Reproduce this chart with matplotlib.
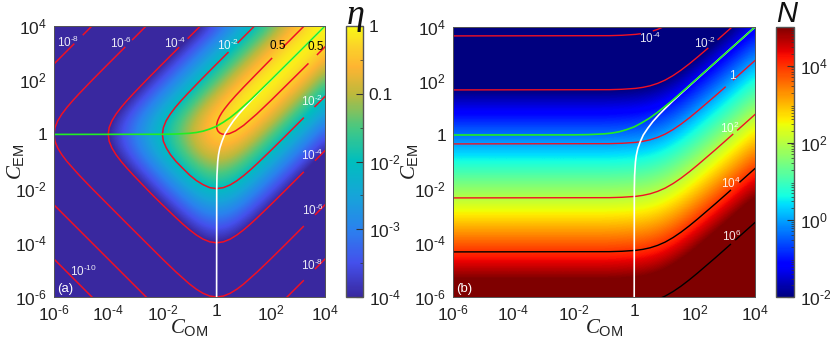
# -*- coding: utf-8 -*-
"""Conversion efficiency and added noise maps over C_OM / C_EM, saved to out.png."""
import numpy as np
import matplotlib
matplotlib.use("Agg")
import matplotlib.pyplot as plt
from matplotlib.colors import LinearSegmentedColormap, Normalize
from matplotlib.cm import ScalarMappable

plt.rcParams["font.family"] = ["Liberation Sans", "DejaVu Sans"]
plt.rcParams["mathtext.fontset"] = "custom"
plt.rcParams["mathtext.rm"] = "Liberation Sans"
plt.rcParams["mathtext.it"] = "Liberation Serif:italic"
plt.rcParams["mathtext.default"] = "regular"

W, H = 830, 342
NAN = float("nan")
FRAME = "#555555"
RED = "#f01024"

# decades on both axes, half-decade nodes of the two maps
TICKS = [-6, -4, -2, 0, 2, 4]
TICK_LABELS = [r"$10^{\text{-}6}$", r"$10^{\text{-}4}$", r"$10^{\text{-}2}$", "1", "$10^{2}$", "$10^{4}$"]

# log10(eta), rows from C_EM = 1e4 down to 1e-6, columns from C_OM = 1e-6 up to 1e4
LOG_ETA = [
    [-9.40, -8.90, -8.40, -7.90, -7.40, -6.90, -6.40, -5.90, -5.40, -4.90, -4.40, -3.90, -3.40, -2.90, -2.40, -1.90, -1.41, -0.93, -0.48, -0.14, 0.00],
    [-8.90, -8.40, -7.90, -7.40, -6.90, -6.40, -5.90, -5.40, -4.90, -4.40, -3.90, -3.40, -2.90, -2.40, -1.90, -1.41, -0.93, -0.48, -0.14, 0.00, -0.14],
    [-8.40, -7.90, -7.40, -6.90, -6.40, -5.90, -5.40, -4.90, -4.40, -3.90, -3.40, -2.90, -2.40, -1.90, -1.41, -0.93, -0.48, -0.14, 0.00, -0.14, -0.48],
    [-7.90, -7.40, -6.90, -6.40, -5.90, -5.40, -4.90, -4.40, -3.90, -3.40, -2.90, -2.40, -1.90, -1.41, -0.93, -0.49, -0.14, 0.00, -0.14, -0.48, -0.93],
    [-7.41, -6.91, -6.41, -5.91, -5.41, -4.91, -4.41, -3.91, -3.41, -2.91, -2.41, -1.91, -1.42, -0.93, -0.49, -0.14, 0.00, -0.14, -0.48, -0.93, -1.41],
    [-6.93, -6.43, -5.93, -5.43, -4.93, -4.43, -3.93, -3.43, -2.93, -2.43, -1.93, -1.43, -0.95, -0.51, -0.16, -0.01, -0.14, -0.49, -0.93, -1.41, -1.90],
    [-6.48, -5.98, -5.48, -4.98, -4.48, -3.98, -3.48, -2.98, -2.48, -1.98, -1.49, -1.00, -0.56, -0.20, -0.04, -0.16, -0.49, -0.93, -1.41, -1.90, -2.40],
    [-6.14, -5.64, -5.14, -4.64, -4.14, -3.64, -3.14, -2.64, -2.14, -1.64, -1.16, -0.70, -0.32, -0.13, -0.20, -0.51, -0.93, -1.41, -1.90, -2.40, -2.90],
    [-6.00, -5.50, -5.00, -4.50, -4.00, -3.50, -3.00, -2.50, -2.00, -1.51, -1.04, -0.63, -0.35, -0.32, -0.56, -0.95, -1.42, -1.91, -2.40, -2.90, -3.40],
    [-6.14, -5.64, -5.14, -4.64, -4.14, -3.64, -3.14, -2.64, -2.14, -1.66, -1.20, -0.82, -0.63, -0.70, -1.00, -1.43, -1.91, -2.40, -2.90, -3.40, -3.90],
    [-6.48, -5.98, -5.48, -4.98, -4.48, -3.98, -3.48, -2.98, -2.49, -2.00, -1.56, -1.20, -1.04, -1.16, -1.49, -1.93, -2.41, -2.90, -3.40, -3.90, -4.40],
    [-6.93, -6.43, -5.93, -5.43, -4.93, -4.43, -3.93, -3.43, -2.93, -2.45, -2.00, -1.66, -1.51, -1.64, -1.98, -2.43, -2.91, -3.40, -3.90, -4.40, -4.90],
    [-7.41, -6.91, -6.41, -5.91, -5.41, -4.91, -4.41, -3.91, -3.41, -2.93, -2.49, -2.14, -2.00, -2.14, -2.48, -2.93, -3.41, -3.90, -4.40, -4.90, -5.40],
    [-7.90, -7.40, -6.90, -6.40, -5.90, -5.40, -4.90, -4.40, -3.91, -3.43, -2.98, -2.64, -2.50, -2.64, -2.98, -3.43, -3.91, -4.40, -4.90, -5.40, -5.90],
    [-8.40, -7.90, -7.40, -6.90, -6.40, -5.90, -5.40, -4.90, -4.41, -3.93, -3.48, -3.14, -3.00, -3.14, -3.48, -3.93, -4.41, -4.90, -5.40, -5.90, -6.40],
    [-8.90, -8.40, -7.90, -7.40, -6.90, -6.40, -5.90, -5.40, -4.91, -4.43, -3.98, -3.64, -3.50, -3.64, -3.98, -4.43, -4.91, -5.40, -5.90, -6.40, -6.90],
    [-9.40, -8.90, -8.40, -7.90, -7.40, -6.90, -6.40, -5.90, -5.41, -4.93, -4.48, -4.14, -4.00, -4.14, -4.48, -4.93, -5.41, -5.90, -6.40, -6.90, -7.40],
    [-9.90, -9.40, -8.90, -8.40, -7.90, -7.40, -6.90, -6.40, -5.91, -5.43, -4.98, -4.64, -4.50, -4.64, -4.98, -5.43, -5.91, -6.40, -6.90, -7.40, -7.90],
    [-10.40, -9.90, -9.40, -8.90, -8.40, -7.90, -7.40, -6.90, -6.41, -5.93, -5.48, -5.14, -5.00, -5.14, -5.48, -5.93, -6.41, -6.90, -7.40, -7.90, -8.40],
    [-10.90, -10.40, -9.90, -9.40, -8.90, -8.40, -7.90, -7.40, -6.91, -6.43, -5.98, -5.64, -5.50, -5.64, -5.98, -6.43, -6.91, -7.40, -7.90, -8.40, -8.90],
    [-11.40, -10.90, -10.40, -9.90, -9.40, -8.90, -8.40, -7.90, -7.41, -6.93, -6.48, -6.14, -6.00, -6.14, -6.48, -6.93, -7.41, -7.90, -8.40, -8.90, -9.40],
]

# log10(N), same layout
LOG_N = [
    [-4.33, -4.33, -4.33, -4.33, -4.33, -4.33, -4.33, -4.33, -4.33, -4.33, -4.33, -4.31, -4.28, -4.19, -3.98, -3.64, -3.21, -2.73, -2.24, -1.74, -1.24],
    [-3.83, -3.83, -3.83, -3.83, -3.83, -3.83, -3.83, -3.83, -3.83, -3.83, -3.83, -3.81, -3.78, -3.69, -3.48, -3.14, -2.71, -2.23, -1.74, -1.24, -0.74],
    [-3.33, -3.33, -3.33, -3.33, -3.33, -3.33, -3.33, -3.33, -3.33, -3.33, -3.33, -3.31, -3.28, -3.19, -2.98, -2.64, -2.21, -1.73, -1.24, -0.74, -0.24],
    [-2.83, -2.83, -2.83, -2.83, -2.83, -2.83, -2.83, -2.83, -2.83, -2.83, -2.83, -2.81, -2.78, -2.69, -2.48, -2.14, -1.71, -1.23, -0.74, -0.24, 0.26],
    [-2.33, -2.33, -2.33, -2.33, -2.33, -2.33, -2.33, -2.33, -2.33, -2.33, -2.33, -2.31, -2.28, -2.19, -1.98, -1.64, -1.21, -0.73, -0.24, 0.26, 0.76],
    [-1.83, -1.83, -1.83, -1.83, -1.83, -1.83, -1.83, -1.83, -1.83, -1.83, -1.83, -1.81, -1.78, -1.69, -1.48, -1.14, -0.71, -0.23, 0.26, 0.76, 1.26],
    [-1.33, -1.33, -1.33, -1.33, -1.33, -1.33, -1.33, -1.33, -1.33, -1.33, -1.33, -1.31, -1.28, -1.19, -0.98, -0.64, -0.21, 0.27, 0.76, 1.26, 1.76],
    [-0.83, -0.83, -0.83, -0.83, -0.83, -0.83, -0.83, -0.83, -0.83, -0.83, -0.83, -0.81, -0.78, -0.69, -0.48, -0.14, 0.29, 0.77, 1.26, 1.76, 2.26],
    [-0.33, -0.33, -0.33, -0.33, -0.33, -0.33, -0.33, -0.33, -0.33, -0.33, -0.33, -0.31, -0.28, -0.19, 0.02, 0.36, 0.79, 1.27, 1.76, 2.26, 2.76],
    [0.17, 0.17, 0.17, 0.17, 0.17, 0.17, 0.17, 0.17, 0.17, 0.17, 0.17, 0.19, 0.22, 0.31, 0.52, 0.86, 1.29, 1.77, 2.26, 2.76, 3.26],
    [0.67, 0.67, 0.67, 0.67, 0.67, 0.67, 0.67, 0.67, 0.67, 0.67, 0.67, 0.69, 0.72, 0.81, 1.02, 1.36, 1.79, 2.27, 2.76, 3.26, 3.76],
    [1.17, 1.17, 1.17, 1.17, 1.17, 1.17, 1.17, 1.17, 1.17, 1.17, 1.17, 1.19, 1.22, 1.31, 1.52, 1.86, 2.29, 2.77, 3.26, 3.76, 4.26],
    [1.67, 1.67, 1.67, 1.67, 1.67, 1.67, 1.67, 1.67, 1.67, 1.67, 1.67, 1.69, 1.72, 1.81, 2.02, 2.36, 2.79, 3.27, 3.76, 4.26, 4.76],
    [2.17, 2.17, 2.17, 2.17, 2.17, 2.17, 2.17, 2.17, 2.17, 2.17, 2.17, 2.19, 2.22, 2.31, 2.52, 2.86, 3.29, 3.77, 4.26, 4.76, 5.26],
    [2.67, 2.67, 2.67, 2.67, 2.67, 2.67, 2.67, 2.67, 2.67, 2.67, 2.67, 2.69, 2.72, 2.81, 3.02, 3.36, 3.79, 4.27, 4.76, 5.26, 5.76],
    [3.17, 3.17, 3.17, 3.17, 3.17, 3.17, 3.17, 3.17, 3.17, 3.17, 3.17, 3.19, 3.22, 3.31, 3.52, 3.86, 4.29, 4.77, 5.26, 5.76, 6.26],
    [3.67, 3.67, 3.67, 3.67, 3.67, 3.67, 3.67, 3.67, 3.67, 3.67, 3.67, 3.69, 3.72, 3.81, 4.02, 4.36, 4.79, 5.27, 5.76, 6.26, 6.76],
    [4.17, 4.17, 4.17, 4.17, 4.17, 4.17, 4.17, 4.17, 4.17, 4.17, 4.17, 4.19, 4.22, 4.31, 4.52, 4.86, 5.29, 5.77, 6.26, 6.76, 7.26],
    [4.67, 4.67, 4.67, 4.67, 4.67, 4.67, 4.67, 4.67, 4.67, 4.67, 4.67, 4.69, 4.72, 4.81, 5.02, 5.36, 5.79, 6.27, 6.76, 7.26, 7.76],
    [5.17, 5.17, 5.17, 5.17, 5.17, 5.17, 5.17, 5.17, 5.17, 5.17, 5.17, 5.19, 5.22, 5.31, 5.52, 5.86, 6.29, 6.77, 7.26, 7.76, 8.26],
    [5.67, 5.67, 5.67, 5.67, 5.67, 5.67, 5.67, 5.67, 5.67, 5.67, 5.67, 5.69, 5.72, 5.81, 6.02, 6.36, 6.79, 7.27, 7.76, 8.26, 8.76],
]

# eta contours, exponents, NAN where a label interrupts the line
ETA_05_X = [3.23, 2.46, NAN, 2.03, 1.477, 1, 0.699, 0.477, 0.301, 0.204, 0.114, 0.041, 0.009, 0, 0.009, 0.041, 0.114, 0.204, 0.301, 0.477, 0.699, 1, 1.477, 2, 3.37, NAN, 3.72, 4]
ETA_05_Y = [4, 3.23, NAN, 2.8, 2.237, 1.747, 1.426, 1.174, 0.954, 0.818, 0.669, 0.51, 0.392, 0.301, 0.219, 0.134, 0.055, 0.012, 0, 0.03, 0.13, 0.336, 0.748, 1.246, 2.6, NAN, 2.95, 3.23]
ETA_2_X = [1.4, 0.79, NAN, 0.42, -0.1, -0.594, -1.075, -1.305, -1.52, -1.71, -1.864, -1.965, -2, -1.965, -1.855, -1.7, -1.497, -1.25, -1, -0.75, -0.5, -0.25, 0, 0.25, 0.5, 0.75, 1, 1.25, 1.5, 2, 2.5, 3.2, NAN, 3.63, 4]
ETA_2_Y = [4, 3.39, NAN, 3.02, 2.5, 2, 1.5, 1.25, 1, 0.75, 0.5, 0.25, 0, -0.25, -0.5, -0.75, -1, -1.25, -1.497, -1.7, -1.855, -1.965, -2, -1.965, -1.864, -1.71, -1.52, -1.305, -1.075, -0.594, -0.1, 0.6, NAN, 1.03, 1.4]
ETA_4_X = [-0.6, -1.05, NAN, -1.4, -2.1, -2.594, -3.075, -3.305, -3.52, -3.71, -3.864, -3.965, -4, -3.965, -3.864, -3.71, -3.52, -3.305, -3.075, -2.594, -2.3, -2, -1.5, -1.25, -1, -0.75, -0.5, -0.25, 0, 0.25, 0.5, 0.75, 1, 1.25, 1.5, 2, 2.5, 3.2, NAN, 3.65, 4]
ETA_4_Y = [4, 3.55, NAN, 3.2, 2.5, 2, 1.5, 1.25, 1, 0.75, 0.5, 0.25, 0, -0.25, -0.5, -0.75, -1, -1.25, -1.5, -2, -2.3, -2.594, -3.075, -3.305, -3.52, -3.71, -3.864, -3.965, -4, -3.965, -3.864, -3.71, -3.52, -3.305, -3.075, -2.594, -2.1, -1.4, NAN, -0.95, -0.6]
ETA_6_X = [-2.6, -3.1, NAN, -3.39, -4.1, -4.594, -5.075, -5.305, -5.52, -5.71, -5.864, -5.965, -6, -5.965, -5.864, -5.71, -5.52, -5.075, -4.594, -3.3, -2, -1.5, -1, -0.75, -0.5, -0.25, 0, 0.25, 0.5, 0.75, 1, 1.5, 2, 2.5, 3.2, NAN, 3.65, 4]
ETA_6_Y = [4, 3.5, NAN, 3.21, 2.5, 2, 1.5, 1.25, 1, 0.75, 0.5, 0.25, 0, -0.25, -0.5, -0.75, -1, -1.5, -2, -3.3, -4.594, -5.075, -5.52, -5.71, -5.864, -5.965, -6, -5.965, -5.864, -5.71, -5.52, -5.075, -4.594, -4.1, -3.4, NAN, -2.95, -2.6]
ETA_8_X = [-4.6, -4.92, NAN, -5.27, -6, NAN, -6, -2.6, NAN, 2.6, 3.2, NAN, 3.65, 4]
ETA_8_Y = [4, 3.68, NAN, 3.33, 2.6, NAN, -2.6, -6, NAN, -6, -5.4, NAN, -4.95, -4.6]
ETA_10_X = [-6, -4.6]
ETA_10_Y = [-4.6, -6]
ETA_LINES = [(ETA_05_X, ETA_05_Y), (ETA_2_X, ETA_2_Y), (ETA_4_X, ETA_4_Y),
             (ETA_6_X, ETA_6_Y), (ETA_8_X, ETA_8_Y), (ETA_10_X, ETA_10_Y)]

# shape shared by the N contours: C_EM exponent of the N = 1 line against C_OM exponent
N_SHAPE_X = [-6, -1, -0.5, 0, 0.25, 0.5, 0.75, 1, 1.25, 1.5, 1.75, 2, 2.5, 3, 3.5, 4]
N_SHAPE_Y = [-0.33, -0.325, -0.313, -0.28, -0.244, -0.187, -0.10, 0.018, 0.174, 0.36, 0.569, 0.794, 1.27, 1.76, 2.26, 2.76]
N_LEVELS = [-4, -2, 0, 2, 4, 6]
N_COLORS = [RED, RED, RED, RED, "black", "black"]
N_GAPS = [(0.21, 0.63), (2.44, 2.77), (3.02, 3.28), (3.27, 3.42), (3.2, 3.5), (3.2, 3.35)]

# the two guide curves
GREEN_X = [-6, -2, -1.5, -1, -0.75, -0.5, -0.25, 0, 0.25, 0.5, 0.75, 1, 1.25, 1.5, 2, 3, 4]
GREEN_Y = [0, 0.004, 0.0135, 0.041, 0.07, 0.119, 0.2, 0.301, 0.45, 0.619, 0.82, 1.041, 1.27, 1.513, 2.004, 3, 4]

# label text, C_OM exponent, C_EM exponent, colour
ETA_LABELS = [
    (r"$10^{\text{-}8}$", -5.47, 3.41, "white"), (r"$10^{\text{-}6}$", -3.54, 3.36, "white"),
    (r"$10^{\text{-}4}$", -1.53, 3.35, "white"), (r"$10^{\text{-}2}$", 0.42, 3.3, "white"),
    ("0.5", 2.25, 3.28, "black"), ("0.5", 3.67, 3.22, "black"),
    (r"$10^{\text{-}2}$", 3.54, 1.22, "white"), (r"$10^{\text{-}4}$", 3.54, -0.79, "white"),
    (r"$10^{\text{-}6}$", 3.54, -2.81, "white"), (r"$10^{\text{-}8}$", 3.54, -4.83, "white"),
    (r"$10^{\text{-}10}$", -4.92, -5.04, "white"),
]
N_LABELS = [
    (r"$10^{\text{-}4}$", 0.52, 3.59), (r"$10^{\text{-}2}$", 2.34, 3.4), ("1", 3.25, 2.2),
    ("$10^{2}$", 3.16, 0.24), ("$10^{4}$", 3.2, -1.78), ("$10^{6}$", 3.22, -3.74),
]

ETA_CMAP = LinearSegmentedColormap.from_list("eta", [
    (0.0, "#39289f"), (0.125, "#4450ec"), (0.25, "#2a82ee"), (0.375, "#16a5d8"),
    (0.5, "#00bebe"), (0.625, "#46c882"), (0.75, "#bdb93c"), (0.85, "#feb432"),
    (0.93, "#fbd428"), (1.0, "#fafa14"),
])


def axes_px(x0, x1, y0, y1):
    return [x0 / W, 1 - y1 / H, (x1 - x0) / W, (y1 - y0) / H]


def panel(fig, rect, table, cmap, vmin, vmax, tag, ylab_x):
    ax = fig.add_axes(axes_px(*rect))
    ax.imshow(table, extent=(-6.25, 4.25, -6.25, 4.25), origin="upper", aspect="auto",
              cmap=cmap, vmin=vmin, vmax=vmax, interpolation="bicubic")
    ax.set_xlim(-6, 4); ax.set_ylim(-6, 4)
    ax.set_xticks(TICKS); ax.set_xticklabels(TICK_LABELS)
    ax.set_yticks(TICKS); ax.set_yticklabels(TICK_LABELS)
    ax.tick_params(length=0, labelsize=12.5, pad=5, colors="#222222")
    for s in ax.spines.values():
        s.set_color(FRAME); s.set_linewidth(0.7)
    ax.set_xlabel(r"$\mathit{C}_{OM}$", fontsize=15, color="#222222", va="center")
    ax.set_ylabel(r"$\mathit{C}_{EM}$", fontsize=15, color="#222222", va="center")
    ax.xaxis.set_label_coords(0.5, -0.116)
    ax.yaxis.set_label_coords(ylab_x, 0.5)
    ax.text(-5.9, -5.72, tag, color="white", fontsize=9.5, ha="left", va="center")
    return ax


def guides(ax):
    # white curve is the green one mirrored, green sits on top where they merge
    ax.plot(GREEN_Y, GREEN_X, color="white", lw=1.2, solid_capstyle="butt")
    ax.plot(GREEN_X, GREEN_Y, color="#22ee22", lw=1.2, solid_capstyle="butt")


def colorbar(fig, rect, cmap, vmin, vmax, ticks, labels, minor):
    cax = fig.add_axes(axes_px(*rect))
    cb = fig.colorbar(ScalarMappable(Normalize(vmin, vmax), cmap), cax=cax)
    cb.set_ticks(ticks); cb.set_ticklabels(labels)
    cb.ax.yaxis.set_ticks(minor, minor=True)
    cb.ax.tick_params(which="major", direction="in", length=5, width=0.8, color="#333333",
                      labelsize=12.5, pad=4, labelcolor="#222222")
    cb.ax.tick_params(which="minor", direction="in", length=2, width=0.5, color="#333333")
    cb.outline.set_edgecolor(FRAME); cb.outline.set_linewidth(1.0)


fig = plt.figure(figsize=(W / 100, H / 100), dpi=100)

# (a) efficiency
ax = panel(fig, (54, 325, 26, 297), LOG_ETA, ETA_CMAP, -4, 0, "(a)", -0.14)
for xs, ys in ETA_LINES:
    ax.plot(xs, ys, color=RED, lw=1.1)
guides(ax)
for t, x, y, c in ETA_LABELS:
    ax.text(x, y, t, color=c, fontsize=8.5, ha="center", va="center", alpha=0.9 if c == "white" else 1)
colorbar(fig, (345.5, 363, 26, 297), ETA_CMAP, -4, 0,
         [-4, -3, -2, -1, 0], [r"$10^{\text{-}4}$", r"$10^{\text{-}3}$", r"$10^{\text{-}2}$", "0.1", "1"],
         [-3.5, -2.5, -1.5, -0.5])
fig.text(355 / W, 1 - 16 / H, r"$\mathit{\eta}$", fontsize=26, ha="center", va="center", color="#111111")

# (b) noise
ax = panel(fig, (453, 755, 27, 297), LOG_N, "jet", -2, 5, "(b)", -0.141)
shape_x = np.linspace(-6, 4, 801)
shape_y = np.interp(shape_x, N_SHAPE_X, N_SHAPE_Y)
for lev, col, gap in zip(N_LEVELS, N_COLORS, N_GAPS):
    y = shape_y - lev
    y[(shape_x > gap[0]) & (shape_x < gap[1])] = np.nan
    ax.plot(shape_x, y, color=col, lw=1.0)
guides(ax)
for t, x, y in N_LABELS:
    ax.text(x, y, t, color="white", fontsize=8.5, ha="center", va="center", alpha=0.9)
minor = [d + np.log10(m) for d in range(-2, 5) for m in range(2, 10)]
colorbar(fig, (776, 794, 27, 297), "jet", -2, 5,
         [-2, 0, 2, 4], [r"$10^{\text{-}2}$", "$10^{0}$", "$10^{2}$", "$10^{4}$"], minor)
fig.text(787 / W, 1 - 14 / H, "N", fontsize=21, style="italic", ha="center", va="center", color="#111111")

fig.savefig("out.png", dpi=100)
